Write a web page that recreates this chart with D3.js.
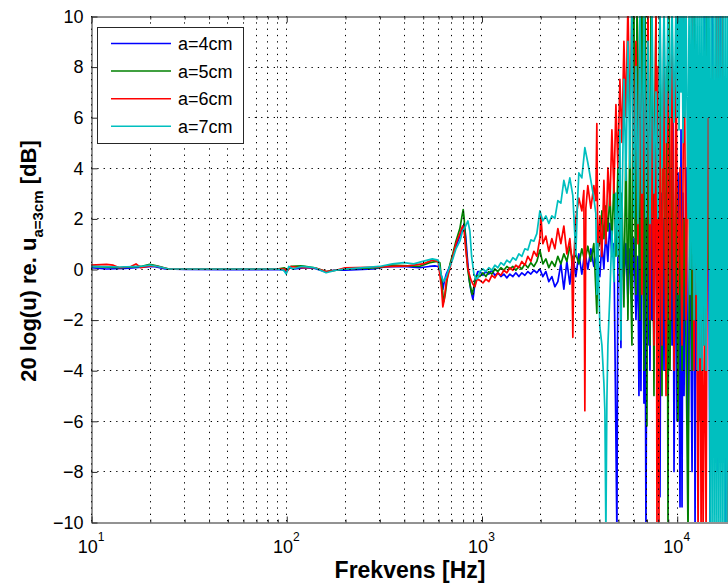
<!DOCTYPE html>
<html>
<head>
<meta charset="utf-8">
<script src="https://cdn.jsdelivr.net/npm/d3@7"></script>
<style>
  body { margin: 0; background: #fff; }
  text { font-family: "Liberation Sans", Arial, sans-serif; }
</style>
</head>
<body>
<svg id="chart" width="728" height="587"></svg>
<script>
// legend names + colours (matlab default order)
const seriesNames = ["a=4cm", "a=5cm", "a=6cm", "a=7cm"];
const seriesColors = ["#0000ff", "#008000", "#ff0000", "#00bfbf"];

const yTicks = [-10, -8, -6, -4, -2, 0, 2, 4, 6, 8, 10];
const xDecades = [10, 100, 1000, 10000];
const xTickExp = ["1", "2", "3", "4"];

// [frequency Hz, dB]
const blueData = [
  [10,0.05],[12,0.0],[15,0.02],[19,0.08],[21,0.1],[24,0.0],[30,-0.02],[50,-0.03],[80,-0.03],[95,-0.02],
  [100,-0.1],[104,0.05],[110,0.0],[125,0.05],[140,0.02],[160,-0.12],[175,-0.05],[200,-0.05],[280,0.0],
  [320,0.08],[400,0.1],[480,0.05],[540,0.1],[577,0.12],[600,0.1],[625,-0.3],[634,-0.8],[645,-0.5],
  [660,-0.2],[688,0.1],[713,0.5],[740,0.9],[775,1.3],[795,1.6],[803,1.5],[815,1.8],[830,1.3],[845,0.5],
  [865,-0.4],[885,-0.9],[904,-1.2],[915,-0.9],[930,-0.4],[958,-0.1],
  [981,-0.1],[1017,-0.25],[1053,-0.1],[1091,-0.2],[1130,-0.05],[1171,-0.25],[1213,-0.15],[1257,-0.3],
  [1302,-0.2],[1349,-0.35],[1398,-0.2],[1448,-0.3],[1500,-0.15],[1554,-0.3],[1610,-0.15],[1668,-0.25],
  [1728,-0.1],[1790,-0.2],[1855,-0.05],[1921,-0.15],[1991,0.0],[2062,-0.3],[2137,-0.1],[2213,-0.5],
  [2293,-0.3],[2376,-0.7],[2461,-0.5],[2550,0.2],[2642,-0.8],[2737,0.3],[2835,-0.6],[2937,0.5],
  [3043,-0.3],[3153,0.6],[3266,-0.2],[3384,0.7],[3505,0.0],[3632,0.8],[3762,0.1],[3898,0.5],
  [4038,-0.3],[4136,1.0],[4235,0.0],[4336,1.5],[4437,0.3],[4543,1.8],[4656,0.5],[4767,1.0],[4939,-10.5],
  [4998,0.8],[5117,1.2],[5178,-3.1],[5240,1.5],[5365,-0.5],[5493,1.0],[5625,-1.3],[5759,0.8],[5897,-1.5],
  [6038,1.2],[6182,-2.0],[6330,0.5],[6405,-5.0],[6481,1.5],[6558,-4.8],[6636,3],[6715,7.5],[6795,-5.3],
  [6876,2],[6957,-10.5],[7040,1],[7124,-3],[7208,2],[7294,-4],[7380,2.5],[7468,-2],[7557,3],[7647,-4],
  [7738,1],[7830,10.5],[7923,-3],[8017,4],[8112,-2],[8209,-9],[8306,3],[8405,-1],[8505,2],[8606,-4],
  [8708,3],[8812,-2],[8916,5],[9023,-6],[9130,2],[9238,-3],[9348,3],[9459,-3],[9571,5.8],[9686,-8],
  [9917,4],[10035,-6],[10154,3.8],[10397,-9.4],[10520,5.5],[10646,-9.4],[10772,3],[10900,-5],[11161,4],
  [11428,-7],[11701,2],[11981,-8],[12267,6],[12413,-10.5],[12561,5],[12861,-6],[13168,7.5],[13483,-4],
  [13806,10.5],[14136,-3],[14474,8],[14820,-10.5],[15174,10.5],[15537,-5],[15908,6],[16289,-8],
  [16678,10.5],[17077,-6],[17485,7],[17903,-10.5],[18331,5],[18769,-8],[19677,6],[20148,-5]
];

const greenData = [
  [10,0.1],[14,0.05],[18,0.1],[20,0.18],[22,0.12],[25,0.0],[40,0.0],[90,0.0],[98,0.05],[101,-0.05],
  [106,0.1],[120,0.12],[140,0.05],[160,-0.1],[180,-0.05],[200,0.0],[300,0.05],[350,0.15],[420,0.12],
  [480,0.1],[544,0.25],[590,0.3],[612,0.25],[625,-0.5],[640,-1.3],[652,-1.0],[670,-0.3],[690,0.2],
  [713,0.6],[740,1.1],[775,1.6],[795,2.1],[806,2.35],[815,2.0],[830,1.0],[850,0.0],[872,-0.6],[895,-1.0],
  [915,-0.7],[935,-0.3],[960,-0.25],
  [981,-0.3],[1017,-0.15],[1053,-0.3],[1091,-0.1],[1130,-0.2],[1171,0.0],[1213,-0.1],[1257,0.05],
  [1302,-0.05],[1349,0.1],[1398,0.0],[1448,0.1],[1500,-0.05],[1554,0.1],[1610,0.0],[1668,0.2],
  [1728,0.05],[1790,0.25],[1855,0.1],[1921,0.3],[1991,0.75],[2062,0.2],[2137,0.4],[2213,0.05],
  [2293,0.3],[2376,0.1],[2461,0.5],[2550,0.2],[2642,0.6],[2737,0.3],[2835,0.9],[2937,0.3],[3043,0.6],
  [3153,0.2],[3266,0.8],[3384,0.3],[3505,0.9],[3632,0.3],[3762,1.0],[3898,-1.75],[3944,0.8],
  [4040,1.0],[4137,2.3],[4236,1.2],[4337,2.5],[4441,1.5],[4547,3.0],[4656,1.0],[4767,3.5],[4881,0.5],
  [4998,4],[5117,-0.5],[5240,3],[5365,-1.5],[5493,5],[5625,-2],[5759,6],[5827,-1],[5897,-3],[5967,8],
  [6038,10.5],[6110,2],[6182,-1],[6255,10.5],[6330,8],[6405,1],[6481,-2],[6558,6],[6636,10.5],[6715,3],
  [6795,-4],[6876,10.5],[6957,5],[7040,-6.2],[7124,10.5],[7208,4],[7294,-3],[7380,10.5],[7468,9],
  [7557,2],[7647,-5],[7738,6],[7830,10.5],[7923,3],[8017,-2],[8112,7],[8209,10.5],[8306,1],[8405,-5],
  [8505,4],[8606,8],[8708,1],[8812,-4],[8916,8],[9023,-10.5],[9130,10.5],[9238,-4],
  [9459,6],[9686,-3],[9917,4],[10154,-6],[10397,3],[10646,-4],[10900,2],[11161,-3],[11428,-10.5],
  [11701,5],[11981,-4],[12267,10.5],[12561,-2],[12861,6],[13168,-6],[13483,7],[13806,-3],[14136,10.5],
  [14474,0],[14820,5],[14996,-6.8],[15174,3],[15537,-1],[15908,8],[16289,0],[16678,6],[17077,-2],
  [17903,4],[18769,0],[20148,2]
];

const redData = [
  [10,0.15],[12,0.18],[13,0.15],[14,0.05],[16,0.1],[17,0.2],[18,0.05],[20,0.12],[22,0.1],[25,0.0],
  [40,0.0],[90,0.0],[98,0.0],[101,-0.1],[105,0.1],[120,0.05],[140,0.05],[160,-0.1],[180,-0.05],
  [200,0.05],[300,0.08],[350,0.1],[420,0.12],[500,0.2],[560,0.35],[600,0.3],[625,-0.8],[634,-1.5],
  [645,-1.2],[660,-0.5],[688,0.0],[713,0.5],[740,1.0],[775,1.4],[800,1.7],[815,1.5],[830,0.8],[852,0.0],
  [880,-0.4],[904,-0.6],[925,-0.7],[950,-0.4],
  [981,-0.45],[1017,-0.55],[1053,-0.4],[1091,-0.5],[1130,-0.25],[1171,-0.35],[1213,-0.15],[1257,-0.25],
  [1302,-0.05],[1349,-0.15],[1398,0.05],[1448,-0.05],[1500,0.15],[1554,0.05],[1610,0.3],[1668,0.15],
  [1728,0.5],[1790,0.3],[1855,0.7],[1921,0.5],[1991,1.2],[2015,2.1],[2062,1.0],[2137,1.3],[2213,0.7],
  [2293,1.2],[2376,0.8],[2461,1.6],[2550,1.0],[2642,1.7],[2737,0.6],[2835,1.2],[2903,0.3],[2937,-2.7],
  [2972,0.4],[3043,2.0],[3153,2.8],[3266,2.3],[3344,3.1],[3384,-5.6],[3424,2.4],[3505,3.3],[3632,2.4],
  [3762,3.3],[3852,2.7],[3898,5.75],[3944,0.5],
  [4040,2.1],[4137,0.5],[4236,3.5],[4337,1.0],[4441,4.0],[4547,2.5],[4656,5.5],[4767,3.0],[4881,6.5],
  [4998,4.0],[5117,7.5],[5240,5.0],[5365,9.0],[5493,6.0],[5625,10.5],[5759,5.5],[5897,10.5],[6038,3],
  [6182,9],[6330,1],[6481,10.5],[6636,-1],[6795,8],[6957,2],[7124,10.5],[7294,-2],[7468,6],[7647,-3],
  [7830,10.5],[7923,-10.5],[8017,8],[8112,-10.5],[8209,6],[8405,-3],[8606,10.5],[8812,-5],[9023,7],
  [9238,-2],[9459,10.5],[9686,-4],[9917,8],[10154,-1],[10397,4],[10646,-3],[10900,10.5],[11161,-2],
  [11428,6],[11701,0],[11981,10.5],[12267,-4],[12561,4],[12861,-10.5],[13168,3],[13324,-10.5],[13483,2],
  [13643,-10.5],[13969,-1],[14136,-10.5],[14474,10.5],[14820,-2],[15174,8],[15537,-3],[15908,10.5],
  [16097,-1],[16289,10.5],[16678,0],[17077,10.5],[17485,-3],[17903,6],[18331,-10.5],[18769,5],[20148,0]
];

const cyanData = [
  [10,0.1],[14,0.08],[18,0.1],[20,0.15],[22,0.1],[25,0.0],[40,0.0],[90,0.0],[97,-0.05],[100,-0.2],
  [103,0.1],[108,0.0],[120,0.1],[140,0.05],[160,-0.15],[180,-0.05],[200,0.0],[300,0.1],[350,0.2],
  [400,0.25],[450,0.2],[500,0.3],[560,0.4],[600,0.35],[625,-0.3],[640,-0.5],[660,-0.3],[688,0.1],
  [713,0.4],[740,0.8],[775,1.1],[800,1.5],[830,1.7],[852,1.9],[872,1.5],[890,0.5],[915,-0.2],[940,-0.4],
  [960,-0.35],
  [981,-0.1],[1017,0.0],[1053,-0.1],[1091,0.05],[1130,-0.05],[1171,0.15],[1213,0.05],[1257,0.25],
  [1302,0.15],[1349,0.35],[1398,0.25],[1448,0.45],[1500,0.35],[1554,0.6],[1610,0.5],[1668,0.8],
  [1728,0.75],[1790,1.15],[1855,1.1],[1921,1.4],[1991,2.3],[2062,1.9],[2137,2.1],[2213,1.8],[2293,2.1],
  [2376,2.0],[2461,2.7],[2550,2.6],[2642,3.5],[2737,3.0],[2835,3.6],[2937,2.9],[3043,0.5],[3100,2.6],
  [3153,3.8],[3266,3.6],[3384,4.8],[3505,4.2],[3632,3.5],[3762,2.8],[3852,2.2],[3898,-1.0],[3944,1.0],
  [4040,-2.3],[4137,-3],[4236,-4.5],[4286,-5.6],[4337,-10.5],[4388,-5.2],[4441,-3],[4547,-1.0],[4656,1.5],
  [4767,-0.5],[4881,3],[4998,0.5],[5117,5.5],[5178,-2.8],[5240,2],[5365,7.5],[5493,3.5],[5625,9],
  [5759,4],[5897,10.5],[6038,2],[6182,8],[6330,1.8],[6481,10.5],[6636,3],[6795,10.5],[6957,2],[7124,9],
  [7294,1.8],[7468,10.5],[7647,3],[7830,7],[8017,2],[8209,10.5],[8405,4],[8606,10.5],[8812,5],
  [9023,10.5],[9238,6],[9459,10.5],[9686,5.8],[9917,10.5],[10035,6],[10154,10.5],[10274,5.5],
  [10397,10.5],[10520,7],[10646,10.5],[10772,5],[10900,10.5],[11029,6],[11161,10.5],[11428,2],
  [11563,10.5],[11701,-1],[11840,10.5],[11981,0],[12123,10.5],[12267,-2],[12413,10.5],[12561,-1],
  [12710,10.5],[12861,-4],[13013,10.5],[13168,-3.5],[13324,10.5],[13483,-4],[13643,10.5],[13806,-3],
  [13969,10.5],[14136,-4],[14304,10.5],[14474,6],[14645,10.5],[14820,-10.5],[14996,10.5],[15174,-10.5],
  [15354,10.5],[15537,-10.5],[15722,10.5],[15908,-10.5],[16097,10.5],[16289,-10.5],[16482,10.5],
  [16678,-10.5],[16876,10.5],[17077,-10.5],[17280,10.5],[17485,-10.5],[17692,10.5],[17903,-10.5],
  [18115,10.5],[18331,-10.5],[18548,10.5],[18769,-10.5],[18991,10.5],[19218,-10.5],[19445,10.5],
  [19677,-10.5],[19910,10.5]
];

const allSeries = [blueData, greenData, redData, cyanData];

const W = 728, H = 587;
const plot = { left: 91, top: 16, right: 735.5, bottom: 522 };
const svg = d3.select("#chart");

const x = d3.scaleLog().domain([10, 20000]).range([plot.left, plot.right]);
const y = d3.scaleLinear().domain([-10, 10]).range([plot.bottom, plot.top]);

// minor grid positions 20..90, 200..900 etc
let xMinor = [];
xDecades.forEach(d => {
  for (let k = 2; k <= 9; k++) if (d * k <= 20000) xMinor.push(d * k);
});
const xGrid = xDecades.concat(xMinor);

svg.append("clipPath").attr("id", "clip")
  .append("rect")
  .attr("x", plot.left).attr("y", plot.top)
  .attr("width", W - plot.left).attr("height", plot.bottom - plot.top);

// data
let line = d3.line().x(d => x(d[0])).y(d => y(d[1]));
let lineG = svg.append("g").attr("clip-path", "url(#clip)");
allSeries.forEach((s, i) => {
  lineG.append("path")
    .datum(s)
    .attr("d", line)
    .attr("fill", "none")
    .attr("stroke", seriesColors[i])
    .attr("stroke-width", 1.7)
    .attr("stroke-linejoin", "round");
});

// dotted grid, drawn over the data like matlab does
let gridG = svg.append("g").attr("clip-path", "url(#clip)")
  .attr("stroke", "#000").attr("stroke-width", 1).attr("stroke-dasharray", "1.3,5");
gridG.selectAll(".gx").data(xGrid).join("line")
  .attr("x1", d => Math.round(x(d)) + 0.5).attr("x2", d => Math.round(x(d)) + 0.5)
  .attr("y1", plot.top).attr("y2", plot.bottom);
gridG.selectAll(".gy").data(yTicks.slice(1, -1)).join("line")
  .attr("y1", d => Math.round(y(d)) + 0.5).attr("y2", d => Math.round(y(d)) + 0.5)
  .attr("x1", plot.left).attr("x2", W);

// axes
let yAxis = d3.axisLeft(y).tickValues(yTicks).tickSize(-6).tickSizeOuter(0).tickPadding(8);
let yG = svg.append("g").attr("transform", `translate(${plot.left + 0.5},0.5)`).call(yAxis);

let xAxis = d3.axisBottom(x).tickValues(xDecades).tickSize(-6).tickSizeOuter(0).tickPadding(10)
  .tickFormat(() => "");
let xG = svg.append("g").attr("transform", `translate(0.5,${plot.bottom + 0.5})`).call(xAxis);
let xAxisMinor = d3.axisBottom(x).tickValues(xMinor).tickSize(-3).tickSizeOuter(0).tickFormat(() => "");
svg.append("g").attr("transform", `translate(0.5,${plot.bottom + 0.5})`).call(xAxisMinor)
  .select(".domain").remove();

let xTop = d3.axisTop(x).tickValues(xDecades).tickSize(-6).tickSizeOuter(0).tickFormat(() => "");
svg.append("g").attr("transform", `translate(0.5,${plot.top + 0.5})`).call(xTop);
let xTopMinor = d3.axisTop(x).tickValues(xMinor).tickSize(-3).tickSizeOuter(0).tickFormat(() => "");
svg.append("g").attr("transform", `translate(0.5,${plot.top + 0.5})`).call(xTopMinor)
  .select(".domain").remove();

svg.selectAll(".domain, .tick line").attr("stroke", "#262626").attr("stroke-width", 1);
svg.selectAll(".tick text").attr("fill", "#000").style("font-size", "18px")
  .style("font-family", "'Liberation Sans', Arial, sans-serif");

// 10^n labels
xDecades.forEach((d, i) => {
  let t = svg.append("text")
    .attr("x", x(d)).attr("y", 553)
    .attr("text-anchor", "middle")
    .style("font-size", "18px");
  t.append("tspan").text("10");
  t.append("tspan").attr("dy", -12).style("font-size", "12px").text(xTickExp[i]);
});

// axis titles
svg.append("text")
  .attr("x", 410).attr("y", 578)
  .attr("text-anchor", "middle")
  .style("font-size", "23px").style("font-weight", "bold")
  .text("Frekvens [Hz]");

let yl = svg.append("text")
  .attr("transform", "translate(36,261) rotate(-90)")
  .attr("text-anchor", "middle")
  .style("font-size", "22px").style("font-weight", "bold");
yl.append("tspan").text("20 log(u) re. u");
yl.append("tspan").attr("dy", 7).style("font-size", "15px").text("a=3cm");
yl.append("tspan").attr("dy", -7).text(" [dB]");

// legend
let leg = svg.append("g");
leg.append("rect")
  .attr("x", 97.5).attr("y", 27.5).attr("width", 146).attr("height", 116)
  .attr("fill", "#fff").attr("stroke", "#262626").attr("stroke-width", 1);
seriesNames.forEach((name, i) => {
  let yy = 43.5 + i * 27.6;
  leg.append("line")
    .attr("x1", 111).attr("x2", 171).attr("y1", yy).attr("y2", yy)
    .attr("stroke", seriesColors[i]).attr("stroke-width", 1.5);
  leg.append("text")
    .attr("x", 178).attr("y", yy + 6.5)
    .style("font-size", "18px")
    .text(name);
});
</script>
</body>
</html>
